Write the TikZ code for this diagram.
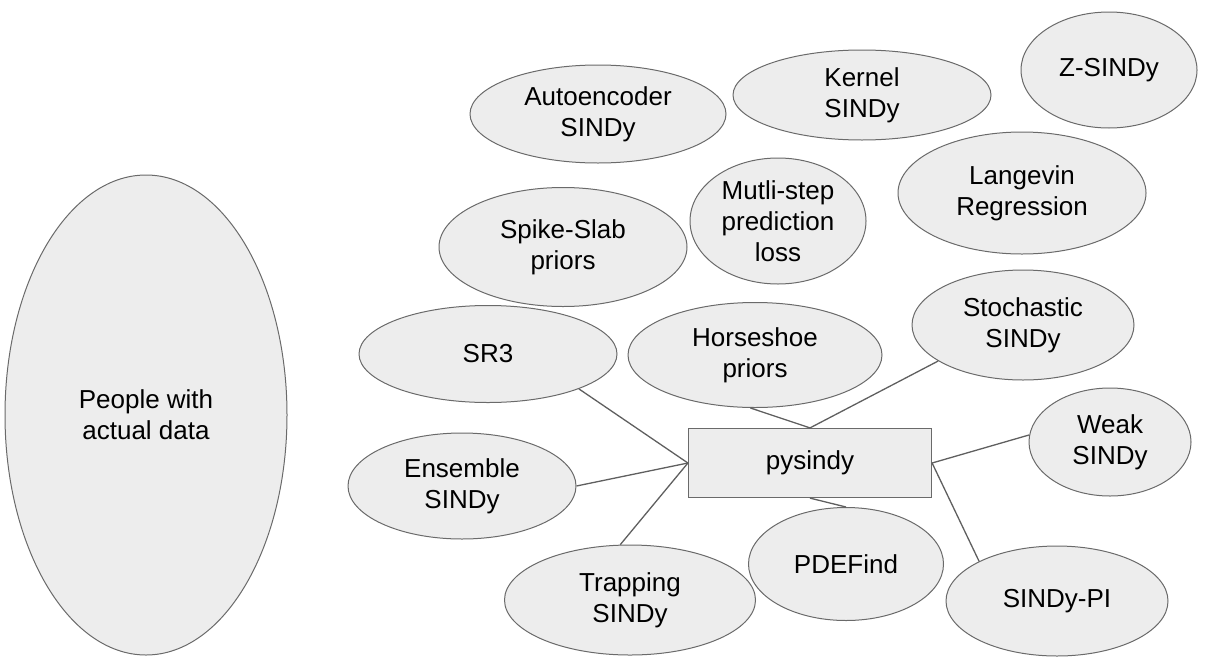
\documentclass[tikz,border=0pt]{standalone}
\usepackage{fontspec}
\setmainfont{Liberation Sans}
\usepackage{tikz}
\usetikzlibrary{shapes.geometric}
\definecolor{blobfill}{HTML}{EDEDED}
\definecolor{blobline}{HTML}{6A6A6A}
\definecolor{linkgray}{HTML}{5F5F5F}

\begin{document}
\begin{tikzpicture}[
    x=1pt, y=-1pt,
    blob/.style n args={2}{ellipse, draw=blobline, fill=blobfill, line width=1pt,
                   minimum width=#1pt, minimum height=#2pt, inner sep=-10pt,
                   font=\fontsize{26}{31}\selectfont, align=center},
    hub/.style={rectangle, draw=blobline, fill=blobfill, line width=1.2pt,
                minimum width=243pt, minimum height=69pt,
                font=\fontsize{26}{31}\selectfont},
    link/.style={linkgray, line width=1.3pt}
]
\useasboundingbox (0,0) rectangle (1225,656);

\node[blob={282}{480}] (people) at (146,415) {People with\\actual data};

\node[blob={256}{98}]  (auto)  at (598,114)  {Autoencoder\\SINDy};
\node[blob={258}{90}]  (kern)  at (862,95)   {Kernel\\SINDy};
\node[blob={176}{116}] (zsin)  at (1109,70)  {Z-SINDy};
\node[blob={248}{122}] (lang)  at (1022,193) {Langevin\\Regression};
\node[blob={176}{126}] (multi) at (778,221)  {Mutli-step\\prediction\\loss};
\node[blob={248}{119}] (spike) at (563,247)  {Spike-Slab\\priors};
\node[blob={258}{97}]  (sr3)   at (488,354)  {SR3};
\node[blob={254}{105}] (horse) at (755,355)  {Horseshoe\\priors};
\node[blob={222}{110}] (stoch) at (1023,325) {Stochastic\\SINDy};
\node[blob={162}{108}] (weak)  at (1110,442) {Weak\\SINDy};
\node[blob={228}{106}] (ens)   at (462,486)  {Ensemble\\SINDy};
\node[blob={195}{113}] (pde)   at (846,564)  {PDEFind};
\node[blob={251}{110}] (trap)  at (630,600)  {Trapping\\SINDy};
\node[blob={222}{110}] (pi)    at (1057,601) {SINDy-PI};

\node[hub] (pysindy) at (810,463) {pysindy};

% spokes into the hub
\draw[link] (sr3.-21) -- (pysindy.west);
\draw[link] (ens.east) -- (pysindy.west);
\draw[link] (trap.100) -- (pysindy.west);
\draw[link] (horse.-95) -- (pysindy.north);
\draw[link] (stoch.-157) -- (pysindy.north);
\draw[link] (pde.north) -- (pysindy.south);
\draw[link] (weak.175) -- (pysindy.east);
\draw[link] (pi.153) -- (pysindy.east);

\end{tikzpicture}
\end{document}
